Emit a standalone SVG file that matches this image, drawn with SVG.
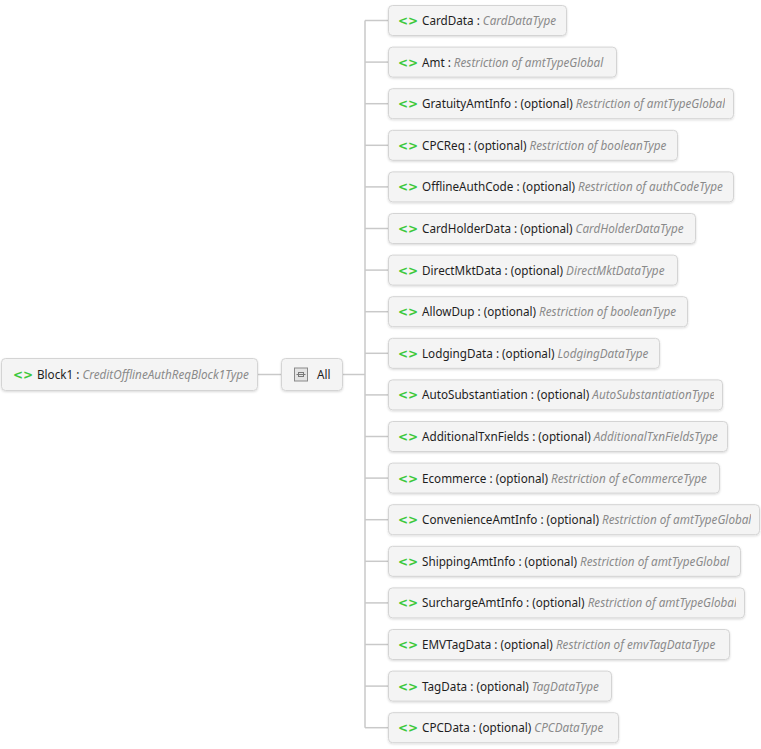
<svg xmlns="http://www.w3.org/2000/svg" width="761" height="749" viewBox="0 0 761 749">
<style>
.n{fill:#f4f4f4;stroke:#d4d4d4;stroke-width:1}
.ic{font-family:"DejaVu Sans",sans-serif;font-weight:bold;font-size:12px;fill:#3cc83c}
.t{font-family:"Noto Sans","Open Sans",sans-serif;font-size:11.7px;fill:#1e1e1e}
.ty{font-style:italic;fill:#8a8a8a}
.c{stroke:#c9c9c9;stroke-width:1.5;fill:none}
</style>
<defs>
<filter id="sh" x="-10%" y="-30%" width="120%" height="170%">
<feDropShadow dx="0" dy="1" stdDeviation="1" flood-color="#000" flood-opacity="0.15"/>
</filter>
<clipPath id="k0"><rect x="388" y="0" width="170" height="749"/></clipPath>
<clipPath id="k1"><rect x="388" y="0" width="220" height="749"/></clipPath>
<clipPath id="k2"><rect x="388" y="0" width="337" height="749"/></clipPath>
<clipPath id="k3"><rect x="388" y="0" width="281" height="749"/></clipPath>
<clipPath id="k4"><rect x="388" y="0" width="337" height="749"/></clipPath>
<clipPath id="k5"><rect x="388" y="0" width="299" height="749"/></clipPath>
<clipPath id="k6"><rect x="388" y="0" width="281" height="749"/></clipPath>
<clipPath id="k7"><rect x="388" y="0" width="291" height="749"/></clipPath>
<clipPath id="k8"><rect x="388" y="0" width="263" height="749"/></clipPath>
<clipPath id="k9"><rect x="388" y="0" width="326" height="749"/></clipPath>
<clipPath id="k10"><rect x="388" y="0" width="331" height="749"/></clipPath>
<clipPath id="k11"><rect x="388" y="0" width="323" height="749"/></clipPath>
<clipPath id="k12"><rect x="388" y="0" width="363" height="749"/></clipPath>
<clipPath id="k13"><rect x="388" y="0" width="344" height="749"/></clipPath>
<clipPath id="k14"><rect x="388" y="0" width="348" height="749"/></clipPath>
<clipPath id="k15"><rect x="388" y="0" width="332" height="749"/></clipPath>
<clipPath id="k16"><rect x="388" y="0" width="215" height="749"/></clipPath>
<clipPath id="k17"><rect x="388" y="0" width="222" height="749"/></clipPath>
<clipPath id="kb"><rect x="0" y="0" width="249" height="749"/></clipPath>
</defs>
<rect width="761" height="749" fill="#ffffff"/>
<g id="connectors">
<line class="c" x1="258" y1="374.5" x2="281" y2="374.5"/>
<line class="c" x1="343" y1="374.5" x2="365" y2="374.5"/>
<line class="c" x1="365" y1="20.5" x2="365" y2="727.7"/>
<line class="c" x1="365" y1="20.5" x2="388" y2="20.5"/>
<line class="c" x1="365" y1="62.1" x2="388" y2="62.1"/>
<line class="c" x1="365" y1="103.7" x2="388" y2="103.7"/>
<line class="c" x1="365" y1="145.3" x2="388" y2="145.3"/>
<line class="c" x1="365" y1="186.9" x2="388" y2="186.9"/>
<line class="c" x1="365" y1="228.5" x2="388" y2="228.5"/>
<line class="c" x1="365" y1="270.1" x2="388" y2="270.1"/>
<line class="c" x1="365" y1="311.7" x2="388" y2="311.7"/>
<line class="c" x1="365" y1="353.3" x2="388" y2="353.3"/>
<line class="c" x1="365" y1="394.9" x2="388" y2="394.9"/>
<line class="c" x1="365" y1="436.5" x2="388" y2="436.5"/>
<line class="c" x1="365" y1="478.1" x2="388" y2="478.1"/>
<line class="c" x1="365" y1="519.7" x2="388" y2="519.7"/>
<line class="c" x1="365" y1="561.3" x2="388" y2="561.3"/>
<line class="c" x1="365" y1="602.9" x2="388" y2="602.9"/>
<line class="c" x1="365" y1="644.5" x2="388" y2="644.5"/>
<line class="c" x1="365" y1="686.1" x2="388" y2="686.1"/>
<line class="c" x1="365" y1="727.7" x2="388" y2="727.7"/>
</g>
<g id="block1">
<rect class="n" filter="url(#sh)" x="1.5" y="358.5" width="256" height="32" rx="4"/>
<g clip-path="url(#kb)">
<text class="ic" x="13" y="379">&lt;&gt;</text>
<text class="t" x="37" y="379">Block1 : <tspan class="ty">CreditOfflineAuthReqBlock1Type</tspan></text>
</g>
</g>
<g id="all">
<rect class="n" filter="url(#sh)" x="281.5" y="358.5" width="61" height="32" rx="4"/>
<rect x="294.5" y="368" width="13" height="13" fill="#e4e4e4" stroke="#8a8a8a" stroke-width="1"/>
<line x1="296.5" y1="374.5" x2="305.5" y2="374.5" stroke="#7a7a7a" stroke-width="1"/>
<rect x="298.5" y="372.5" width="5" height="4" fill="none" stroke="#7a7a7a" stroke-width="1"/>
<text class="t" x="317" y="379">All</text>
</g>
<g id="n0"><rect class="n" filter="url(#sh)" x="388.5" y="5.5" width="178" height="30" rx="4"/><g clip-path="url(#k0)"><text class="ic" x="398" y="25">&lt;&gt;</text><text class="t" x="422" y="25">CardData : <tspan class="ty">CardDataType</tspan></text></g></g>
<g id="n1"><rect class="n" filter="url(#sh)" x="388.5" y="47.1" width="228" height="30" rx="4"/><g clip-path="url(#k1)"><text class="ic" x="398" y="66.6">&lt;&gt;</text><text class="t" x="422" y="66.6">Amt : <tspan class="ty">Restriction of amtTypeGlobal</tspan></text></g></g>
<g id="n2"><rect class="n" filter="url(#sh)" x="388.5" y="88.7" width="345" height="30" rx="4"/><g clip-path="url(#k2)"><text class="ic" x="398" y="108.2">&lt;&gt;</text><text class="t" x="422" y="108.2">GratuityAmtInfo : (optional) <tspan class="ty">Restriction of amtTypeGlobal</tspan></text></g></g>
<g id="n3"><rect class="n" filter="url(#sh)" x="388.5" y="130.3" width="289" height="30" rx="4"/><g clip-path="url(#k3)"><text class="ic" x="398" y="149.8">&lt;&gt;</text><text class="t" x="422" y="149.8">CPCReq : (optional) <tspan class="ty">Restriction of booleanType</tspan></text></g></g>
<g id="n4"><rect class="n" filter="url(#sh)" x="388.5" y="171.9" width="345" height="30" rx="4"/><g clip-path="url(#k4)"><text class="ic" x="398" y="191.4">&lt;&gt;</text><text class="t" x="422" y="191.4">OfflineAuthCode : (optional) <tspan class="ty">Restriction of authCodeType</tspan></text></g></g>
<g id="n5"><rect class="n" filter="url(#sh)" x="388.5" y="213.5" width="307" height="30" rx="4"/><g clip-path="url(#k5)"><text class="ic" x="398" y="233">&lt;&gt;</text><text class="t" x="422" y="233">CardHolderData : (optional) <tspan class="ty">CardHolderDataType</tspan></text></g></g>
<g id="n6"><rect class="n" filter="url(#sh)" x="388.5" y="255.1" width="289" height="30" rx="4"/><g clip-path="url(#k6)"><text class="ic" x="398" y="274.6">&lt;&gt;</text><text class="t" x="422" y="274.6">DirectMktData : (optional) <tspan class="ty">DirectMktDataType</tspan></text></g></g>
<g id="n7"><rect class="n" filter="url(#sh)" x="388.5" y="296.7" width="299" height="30" rx="4"/><g clip-path="url(#k7)"><text class="ic" x="398" y="316.2">&lt;&gt;</text><text class="t" x="422" y="316.2">AllowDup : (optional) <tspan class="ty">Restriction of booleanType</tspan></text></g></g>
<g id="n8"><rect class="n" filter="url(#sh)" x="388.5" y="338.3" width="271" height="30" rx="4"/><g clip-path="url(#k8)"><text class="ic" x="398" y="357.8">&lt;&gt;</text><text class="t" x="422" y="357.8">LodgingData : (optional) <tspan class="ty">LodgingDataType</tspan></text></g></g>
<g id="n9"><rect class="n" filter="url(#sh)" x="388.5" y="379.9" width="334" height="30" rx="4"/><g clip-path="url(#k9)"><text class="ic" x="398" y="399.4">&lt;&gt;</text><text class="t" x="422" y="399.4">AutoSubstantiation : (optional) <tspan class="ty">AutoSubstantiationType</tspan></text></g></g>
<g id="n10"><rect class="n" filter="url(#sh)" x="388.5" y="421.5" width="339" height="30" rx="4"/><g clip-path="url(#k10)"><text class="ic" x="398" y="441">&lt;&gt;</text><text class="t" x="422" y="441">AdditionalTxnFields : (optional) <tspan class="ty">AdditionalTxnFieldsType</tspan></text></g></g>
<g id="n11"><rect class="n" filter="url(#sh)" x="388.5" y="463.1" width="331" height="30" rx="4"/><g clip-path="url(#k11)"><text class="ic" x="398" y="482.6">&lt;&gt;</text><text class="t" x="422" y="482.6">Ecommerce : (optional) <tspan class="ty">Restriction of eCommerceType</tspan></text></g></g>
<g id="n12"><rect class="n" filter="url(#sh)" x="388.5" y="504.7" width="371" height="30" rx="4"/><g clip-path="url(#k12)"><text class="ic" x="398" y="524.2">&lt;&gt;</text><text class="t" x="422" y="524.2">ConvenienceAmtInfo : (optional) <tspan class="ty">Restriction of amtTypeGlobal</tspan></text></g></g>
<g id="n13"><rect class="n" filter="url(#sh)" x="388.5" y="546.3" width="352" height="30" rx="4"/><g clip-path="url(#k13)"><text class="ic" x="398" y="565.8">&lt;&gt;</text><text class="t" x="422" y="565.8">ShippingAmtInfo : (optional) <tspan class="ty">Restriction of amtTypeGlobal</tspan></text></g></g>
<g id="n14"><rect class="n" filter="url(#sh)" x="388.5" y="587.9" width="356" height="30" rx="4"/><g clip-path="url(#k14)"><text class="ic" x="398" y="607.4">&lt;&gt;</text><text class="t" x="422" y="607.4">SurchargeAmtInfo : (optional) <tspan class="ty">Restriction of amtTypeGlobal</tspan></text></g></g>
<g id="n15"><rect class="n" filter="url(#sh)" x="388.5" y="629.5" width="341" height="30" rx="4"/><g clip-path="url(#k15)"><text class="ic" x="398" y="649">&lt;&gt;</text><text class="t" x="422" y="649">EMVTagData : (optional) <tspan class="ty">Restriction of emvTagDataType</tspan></text></g></g>
<g id="n16"><rect class="n" filter="url(#sh)" x="388.5" y="671.1" width="223" height="30" rx="4"/><g clip-path="url(#k16)"><text class="ic" x="398" y="690.6">&lt;&gt;</text><text class="t" x="422" y="690.6">TagData : (optional) <tspan class="ty">TagDataType</tspan></text></g></g>
<g id="n17"><rect class="n" filter="url(#sh)" x="388.5" y="712.7" width="230" height="30" rx="4"/><g clip-path="url(#k17)"><text class="ic" x="398" y="732.2">&lt;&gt;</text><text class="t" x="422" y="732.2">CPCData : (optional) <tspan class="ty">CPCDataType</tspan></text></g></g>
</svg>
